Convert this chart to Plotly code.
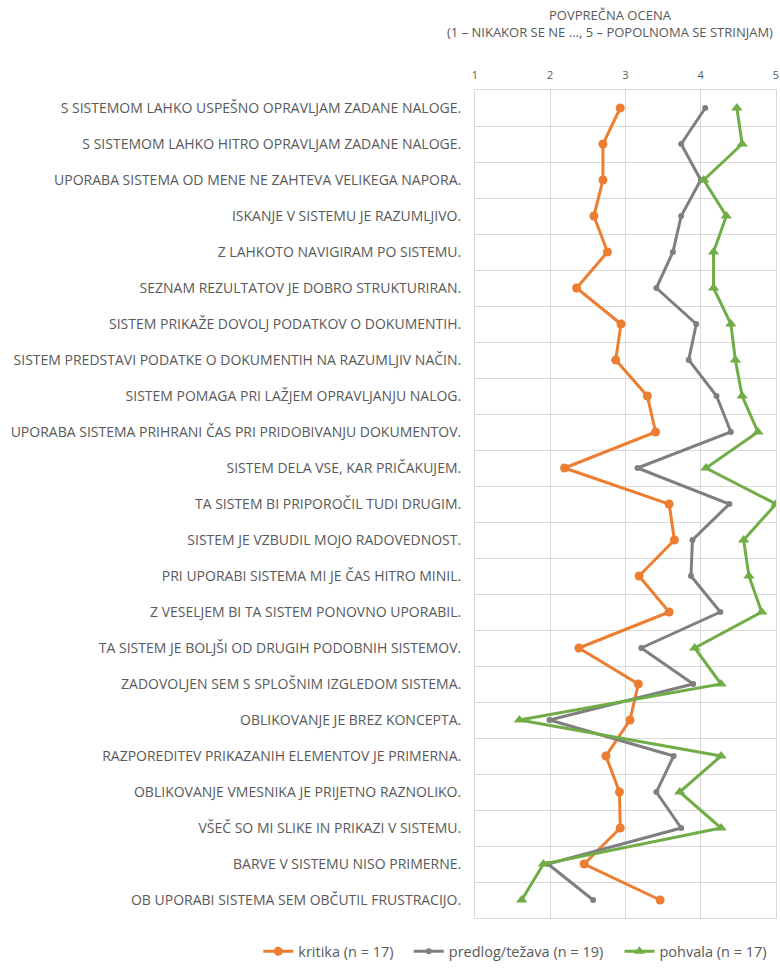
import plotly.graph_objects as go

categories = [
    "S SISTEMOM LAHKO USPEŠNO OPRAVLJAM ZADANE NALOGE.",
    "S SISTEMOM LAHKO HITRO OPRAVLJAM ZADANE NALOGE.",
    "UPORABA SISTEMA OD MENE NE ZAHTEVA VELIKEGA NAPORA.",
    "ISKANJE V SISTEMU JE RAZUMLJIVO.",
    "Z LAHKOTO NAVIGIRAM PO SISTEMU.",
    "SEZNAM REZULTATOV JE DOBRO STRUKTURIRAN.",
    "SISTEM PRIKAŽE DOVOLJ PODATKOV O DOKUMENTIH.",
    "SISTEM PREDSTAVI PODATKE O DOKUMENTIH NA RAZUMLJIV NAČIN.",
    "SISTEM POMAGA PRI LAŽJEM OPRAVLJANJU NALOG.",
    "UPORABA SISTEMA PRIHRANI ČAS PRI PRIDOBIVANJU DOKUMENTOV.",
    "SISTEM DELA VSE, KAR PRIČAKUJEM.",
    "TA SISTEM BI PRIPOROČIL TUDI DRUGIM.",
    "SISTEM JE VZBUDIL MOJO RADOVEDNOST.",
    "PRI UPORABI SISTEMA MI JE ČAS HITRO MINIL.",
    "Z VESELJEM BI TA SISTEM PONOVNO UPORABIL.",
    "TA SISTEM JE BOLJŠI OD DRUGIH PODOBNIH SISTEMOV.",
    "ZADOVOLJEN SEM S SPLOŠNIM IZGLEDOM SISTEMA.",
    "OBLIKOVANJE JE BREZ KONCEPTA.",
    "RAZPOREDITEV PRIKAZANIH ELEMENTOV JE PRIMERNA.",
    "OBLIKOVANJE VMESNIKA JE PRIJETNO RAZNOLIKO.",
    "VŠEČ SO MI SLIKE IN PRIKAZI V SISTEMU.",
    "BARVE V SISTEMU NISO PRIMERNE.",
    "OB UPORABI SISTEMA SEM OBČUTIL FRUSTRACIJO.",
]

kritika = [2.93, 2.70, 2.70, 2.58, 2.76, 2.35, 2.94, 2.87, 3.29, 3.40, 2.19, 3.58,
           3.65, 3.18, 3.58, 2.38, 3.17, 3.06, 2.74, 2.92, 2.93, 2.45, 3.46]
predlog = [4.06, 3.74, 4.00, 3.74, 3.63, 3.41, 3.94, 3.84, 4.21, 4.40, 3.16, 4.38,
           3.89, 3.87, 4.26, 3.21, 3.90, 1.99, 3.64, 3.41, 3.74, 1.97, 2.57]
pohvala = [4.48, 4.55, 4.04, 4.34, 4.17, 4.17, 4.40, 4.46, 4.55, 4.76, 4.07, 5.00,
           4.57, 4.64, 4.81, 3.92, 4.27, 1.59, 4.27, 3.72, 4.27, 1.91, 1.62]

series_names = ["kritika (n = 17)", "predlog/težava (n = 19)", "pohvala (n = 17)"]
colors = ["#ED7D31", "#7F7F7F", "#70AD47"]
symbols = ["circle", "circle", "triangle-up"]
msizes = [9, 6, 10]
legend_ids = ["legend", "legend2", "legend3"]
legend_x = [-0.720, -0.220, 0.480]
x_ticks = [1, 2, 3, 4, 5]

txt = "#595959"
font = "Open Sans"

fig = go.Figure()
for vals, name, c, s, ms, lid in zip([kritika, predlog, pohvala], series_names, colors,
                                     symbols, msizes, legend_ids):
    fig.add_trace(go.Scatter(
        x=vals, y=categories, name=name, mode="lines+markers",
        line=dict(color=c, width=3),
        marker=dict(color=c, symbol=s, size=ms),
        legend=lid,
    ))

legend_common = dict(orientation="h", xanchor="left", y=-0.021, yanchor="top",
                     font=dict(size=14.5, color=txt), itemwidth=30,
                     bgcolor="rgba(0,0,0,0)")

fig.update_layout(
    width=780, height=968,
    margin=dict(l=475, r=1, t=90, b=50),
    paper_bgcolor="white", plot_bgcolor="white",
    font=dict(family=font, color=txt, size=12),
    showlegend=True,
    legend=dict(x=legend_x[0], **legend_common),
    legend2=dict(x=legend_x[1], **legend_common),
    legend3=dict(x=legend_x[2], **legend_common),
    annotations=[dict(
        text="POVPREČNA OCENA<br>(1 – NIKAKOR SE NE ..., 5 – POPOLNOMA SE STRINJAM)",
        xref="paper", yref="paper", x=0.45, y=1.0, yshift=86, xanchor="center", yanchor="top",
        showarrow=False, font=dict(size=13, color=txt, family=font), align="center",
    )],
)

fig.update_xaxes(
    side="top", range=[1, 5], tickvals=x_ticks, ticktext=[str(v) for v in x_ticks],
    showgrid=True, gridcolor="#D9D9D9", gridwidth=1, zeroline=False,
    showline=True, linecolor="#D9D9D9", mirror=True,
    ticks="", tickfont=dict(size=11, color=txt), ticklabelstandoff=6,
    ticklabeloverflow="allow",
)
fig.update_yaxes(
    type="category", range=[22.5, -0.5], tickson="boundaries",
    showgrid=True, gridcolor="#D9D9D9", gridwidth=1, zeroline=False,
    showline=True, linecolor="#D9D9D9", mirror=True,
    ticks="", tickfont=dict(size=14, color=txt), ticklabelstandoff=10,
)

fig.write_html("out.html", config={"displayModeBar": False},
               post_script="document.body.style.margin='0';")
